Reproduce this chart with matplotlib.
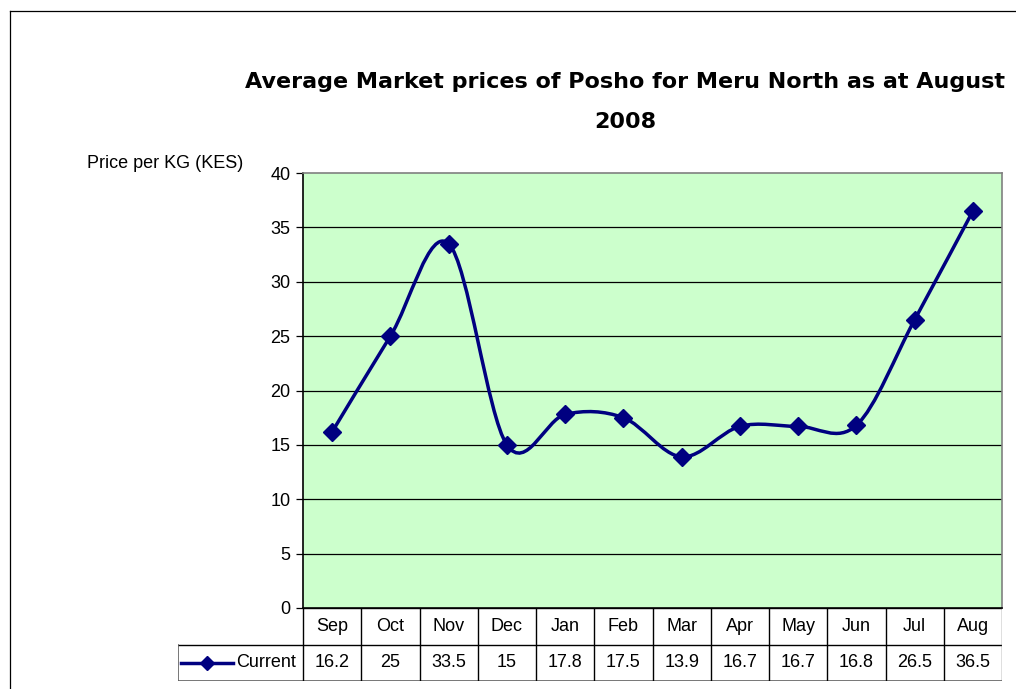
import matplotlib.pyplot as plt
from matplotlib.path import Path
from matplotlib.patches import PathPatch
from matplotlib.lines import Line2D

months = ['Sep', 'Oct', 'Nov', 'Dec', 'Jan', 'Feb', 'Mar', 'Apr', 'May', 'Jun', 'Jul', 'Aug']
current = [16.2, 25, 33.5, 15, 17.8, 17.5, 13.9, 16.7, 16.7, 16.8, 26.5, 36.5]
value_labels = ['16.2', '25', '33.5', '15', '17.8', '17.5', '13.9', '16.7', '16.7', '16.8', '26.5', '36.5']
yticks = [0, 5, 10, 15, 20, 25, 30, 35, 40]

W, H = 1016, 689
navy = '#000080'
green = '#CCFFCC'
font = 'Liberation Sans'
fs = 13


def fx(px):
    return px / W


def fy(py):
    return 1 - py / H


fig = plt.figure(figsize=(W / 100, H / 100), dpi=100)

# outer chart frame
fig.add_artist(Line2D([fx(10), fx(10)], [fy(11), 0], color='black', lw=0.9))
fig.add_artist(Line2D([fx(10), 1], [fy(11), fy(11)], color='black', lw=0.9))

# plot area
left, right, top, bottom = 303, 1002, 173, 608
ax = fig.add_axes([fx(left), fy(bottom), fx(right - left), (bottom - top) / H])
ax.set_facecolor(green)
n = len(months)
ax.set_xlim(-0.5, n - 0.5)
ax.set_ylim(0, 40)
ax.set_yticks(yticks)
ax.set_yticklabels([str(t) for t in yticks], fontsize=fs, fontfamily=font)
ax.tick_params(axis='y', direction='out', length=5, width=0.9, pad=4)
ax.set_xticks([])
for t in yticks[1:-1]:
    ax.axhline(t, color='black', lw=0.9, zorder=1)
ax.spines['left'].set_color('black')
ax.spines['bottom'].set_color('black')
ax.spines['top'].set_color('#808080')
ax.spines['right'].set_color('#808080')
for s in ax.spines.values():
    s.set_linewidth(1.2)

# smoothed line (Bezier through each data point, Excel style)
xs = list(range(n))
pts = list(zip(xs, current))
verts = [pts[0]]
codes = [Path.MOVETO]
for i in range(n - 1):
    p0 = pts[i - 1] if i > 0 else pts[i]
    p1 = pts[i]
    p2 = pts[i + 1]
    p3 = pts[i + 2] if i + 2 < n else pts[i + 1]
    c1 = (p1[0] + (p2[0] - p0[0]) / 6, p1[1] + (p2[1] - p0[1]) / 6)
    c2 = (p2[0] - (p3[0] - p1[0]) / 6, p2[1] - (p3[1] - p1[1]) / 6)
    verts += [c1, c2, p2]
    codes += [Path.CURVE4] * 3
ax.add_patch(PathPatch(Path(verts, codes), fill=False, edgecolor=navy, lw=2.5, zorder=3))
ax.plot(xs, current, ls='none', marker='D', markersize=9, color=navy, zorder=4)

# title and axis label
fig.text(fx(625), fy(82), 'Average Market prices of Posho for Meru North as at August',
         ha='center', va='center', fontsize=16, fontweight='bold', fontfamily='DejaVu Sans')
fig.text(fx(625), fy(122), '2008', ha='center', va='center', fontsize=16,
         fontweight='bold', fontfamily='DejaVu Sans')
fig.text(fx(87), fy(163), 'Price per KG (KES)', ha='left', va='center', fontsize=fs,
         fontfamily=font)

# data table
col_w = (right - left) / n
legend_w = (left - 178) / col_w
tab = fig.add_axes([fx(178), fy(681), fx(right - 178), (681 - bottom) / H])
tab.set_xlim(-0.5 - legend_w, n - 0.5)
tab.set_ylim(0, 2)
tab.axis('off')
lc = 'black'
tab.plot([-0.5, n - 0.5], [2, 2], color=lc, lw=1)
tab.plot([-0.5 - legend_w, n - 0.5], [1, 1], color=lc, lw=1)
tab.plot([-0.5 - legend_w, n - 0.5], [0, 0], color='#606060', lw=1.2)
tab.plot([-0.5 - legend_w, -0.5 - legend_w], [0, 1], color='#606060', lw=1.2)
for i in range(n + 1):
    tab.plot([i - 0.5, i - 0.5], [0, 2], color=lc if i < n else '#606060', lw=1)
for i in range(n):
    tab.text(i, 1.5, months[i], ha='center', va='center', fontsize=fs, fontfamily=font)
    tab.text(i, 0.5, value_labels[i], ha='center', va='center', fontsize=fs, fontfamily=font)
lx0 = -0.5 - legend_w + 0.05
tab.plot([lx0, lx0 + 0.9], [0.5, 0.5], color=navy, lw=2.5)
tab.plot([lx0 + 0.45], [0.5], marker='D', markersize=7, color=navy)
tab.text(lx0 + 0.95, 0.5, 'Current', ha='left', va='center', fontsize=fs, fontfamily=font)

fig.savefig('out.png', dpi=100)
